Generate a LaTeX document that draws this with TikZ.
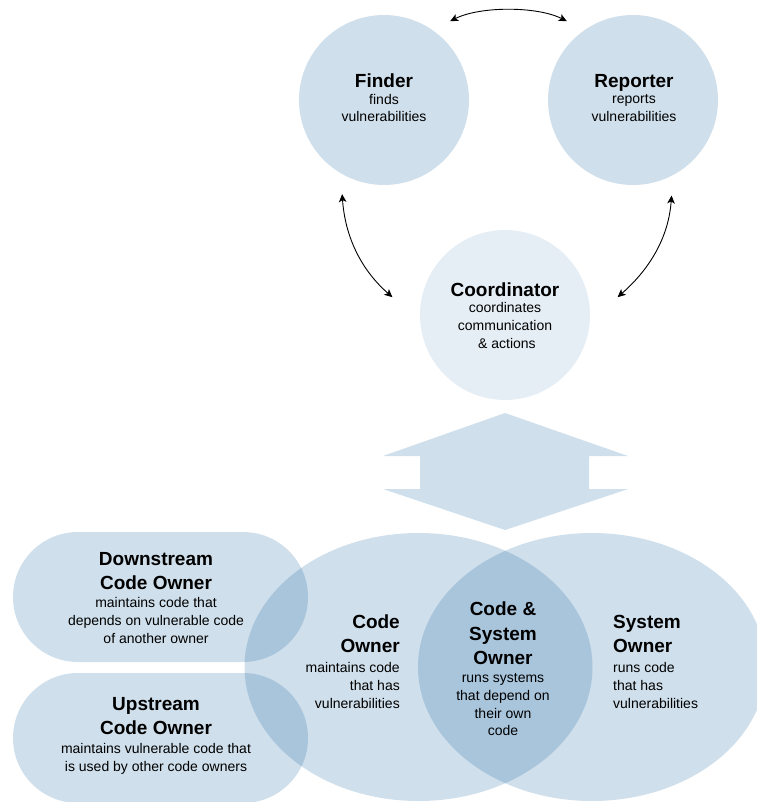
\documentclass[tikz,border=0pt]{standalone}
\usepackage{fontspec}
\setmainfont{Liberation Sans}
\usetikzlibrary{shapes.geometric, arrows.meta}
\definecolor{rolefill}{RGB}{207,223,235}
\definecolor{overlapfill}{RGB}{169,197,220}
\definecolor{coordfill}{RGB}{230,238,245}
\newcommand{\roletitle}{\fontsize{19}{24.5}\selectfont\bfseries}
\tikzstyle{role} = [draw=none, fill=rolefill, inner sep=0pt]
\tikzstyle{bigcircle} = [circle, minimum size=170pt, outer sep=18pt]
\tikzstyle{pill} = [rectangle, rounded corners=65pt, minimum width=295pt, minimum height=130pt]
\tikzstyle{bigellipse} = [ellipse, minimum width=348pt, minimum height=268pt]
\tikzstyle{rolelabel} = [align=center, inner sep=0pt, font=\fontsize{14}{17.8}\selectfont]
\tikzstyle{arrow} = [line width=0.9pt,<->,>={Stealth[length=8pt,width=7.5pt,inset=2pt]}]

\begin{document}
\begin{tikzpicture}[x=1pt, y=-1pt]
        \useasboundingbox (0,0) rectangle (756,802);

        % Top roles
        \node (finder) [role, bigcircle] at (384,100) {};
        \node (reporter) [role, bigcircle] at (633,100) {};
        \node (coordinator) [role, bigcircle, fill=coordfill, outer sep=29pt] at (505,315) {};

        % Two way block arrow
        \fill [rolefill] (505,413) -- (628,456) -- (589,456) -- (589,489) -- (628,489)
            -- (505,530) -- (383,489) -- (420,489) -- (420,456) -- (383,456) -- cycle;

        % Owners
        \node (codeowner) [role, bigellipse] at (418.5,667) {};
        \node (systemowner) [role, bigellipse] at (592,667) {};
        \node (downstream) [role, pill] at (160.5,597) {};
        \node (upstream) [role, pill] at (160.5,738) {};

        % Overlaps
        \begin{scope}
            \clip (418.5,667) ellipse [x radius=174pt, y radius=134pt];
            \fill [overlapfill] (592,667) ellipse [x radius=174pt, y radius=134pt];
            \fill [overlapfill, rounded corners=65pt] (13,532) rectangle (308,662);
            \fill [overlapfill, rounded corners=65pt] (13,673) rectangle (308,803);
        \end{scope}

        % Labels
        \node (finderlabel) [rolelabel] at (384,98) {{\roletitle Finder}\\[-1.3pt]finds\\vulnerabilities};
        \node (reporterlabel) [rolelabel] at (634,98) {{\roletitle Reporter}\\[-1.3pt]reports\\vulnerabilities};
        \node (coordlabel) [rolelabel] at (505,315.4) {{\roletitle Coordinator}\\[-1.1pt]coordinates\\communication\\\ \& actions};
        \node (downlabel) [rolelabel] at (156,597.8) {{\roletitle Downstream}\\[6.7pt]{\roletitle Code Owner}\\[0pt]maintains code that\\depends on vulnerable code\\of another owner};
        \node (uplabel) [rolelabel] at (156,735.5) {{\roletitle Upstream}\\[6.7pt]{\roletitle Code Owner}\\[1pt]maintains vulnerable code that\\is used by other code owners};
        \node (codelabel) [rolelabel, align=right, anchor=east] at (400,661.5) {{\roletitle Code}\\[6.7pt]{\roletitle Owner}\\[2pt]maintains code\\that has\\vulnerabilities};
        \node (bothlabel) [rolelabel] at (503,669) {{\roletitle Code \&}\\[6.7pt]{\roletitle System}\\[6.7pt]{\roletitle Owner}\\[0pt]runs systems\\that depend on\\their own\\code};
        \node (systemlabel) [rolelabel, align=left, anchor=west] at (613,661.5) {{\roletitle System}\\[6.7pt]{\roletitle Owner}\\[2pt]runs code\\that has\\vulnerabilities};

        % Arrows between roles
        \draw [arrow] (finder.50) .. controls +(30,-15) and +(-30,-15) .. (reporter.130);
        \draw [arrow] (finder.246) .. controls +(3,42) and +(-32,-28) .. (coordinator.171);
        \draw [arrow] (reporter.292) .. controls +(-3,42) and +(32,-28) .. (coordinator.9);
    \end{tikzpicture}
\end{document}
